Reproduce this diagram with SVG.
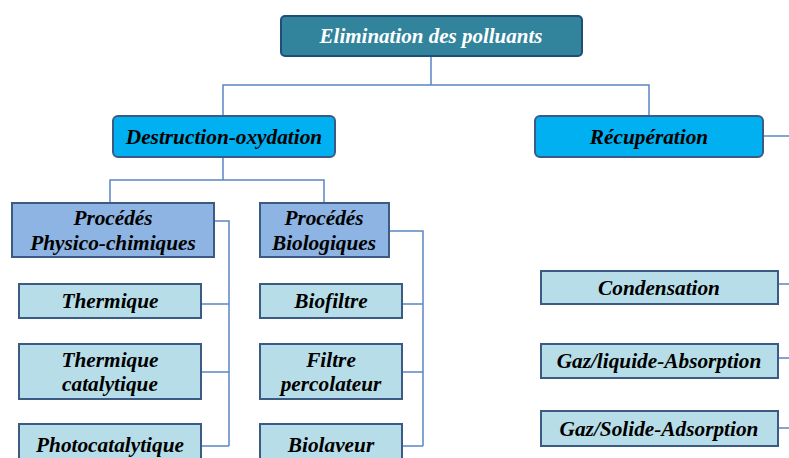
<svg xmlns="http://www.w3.org/2000/svg" width="789" height="458" viewBox="0 0 789 458">
<style>
text{font-family:"Liberation Serif","Times New Roman",serif;font-weight:bold;font-style:italic;font-size:21.3px;text-anchor:middle;fill:#000}
.root rect{fill:#31849B;stroke:#1F4E79;stroke-width:2}
.root text{fill:#fff;font-size:21px}
.l2 rect{fill:#00B0F0;stroke:#3B5B85;stroke-width:2}
.l3 rect{fill:#8DB4E2;stroke:#3B5B85;stroke-width:2}
.leaf rect{fill:#B7DEE8;stroke:#3B5B85;stroke-width:2}
#connectors path{fill:none;stroke:#5B87C5;stroke-width:1.5}
</style>
<rect width="789" height="458" fill="#fff"/>
<g id="connectors">
<path d="M431,56V85M223,116V85H649V116"/>
<path d="M763,136H789"/>
<path d="M223,157V180M110,203V180H324V203"/>
<path d="M214,221H229V446M201,304H229M201,372H229M201,446H229"/>
<path d="M389,231H423V446M402,304H423M402,372H423M402,446H423"/>
<path d="M778,284H789M778,358H789M778,428H789"/>
</g>
<g id="n-root" class="root"><rect x="281" y="16" width="301" height="40" rx="4"/><text x="431" y="43">Elimination des polluants</text></g>
<g id="n-destruction" class="l2"><rect x="113" y="116" width="222" height="41" rx="5"/><text x="224" y="144">Destruction-oxydation</text></g>
<g id="n-recuperation" class="l2"><rect x="535" y="116" width="228" height="41" rx="5"/><text x="649" y="144">Récupération</text></g>
<g id="n-physico" class="l3"><rect x="12" y="203" width="202" height="54"/><text x="113" y="225">Procédés</text><text x="113" y="250">Physico-chimiques</text></g>
<g id="n-bio" class="l3"><rect x="260" y="203" width="129" height="54"/><text x="324" y="225">Procédés</text><text x="324" y="250">Biologiques</text></g>
<g id="n-thermique" class="leaf"><rect x="19" y="284" width="182" height="34"/><text x="110" y="308">Thermique</text></g>
<g id="n-thermcat" class="leaf"><rect x="19" y="344" width="182" height="55"/><text x="110" y="367">Thermique</text><text x="110" y="391">catalytique</text></g>
<g id="n-photo" class="leaf"><rect x="19" y="424" width="182" height="40"/><text x="110" y="452">Photocatalytique</text></g>
<g id="n-biofiltre" class="leaf"><rect x="260" y="284" width="142" height="34"/><text x="331" y="308">Biofiltre</text></g>
<g id="n-filtre" class="leaf"><rect x="260" y="344" width="142" height="55"/><text x="331" y="367">Filtre</text><text x="331" y="391">percolateur</text></g>
<g id="n-biolaveur" class="leaf"><rect x="260" y="424" width="142" height="40"/><text x="331" y="452">Biolaveur</text></g>
<g id="n-condensation" class="leaf"><rect x="541" y="271" width="237" height="33"/><text x="659" y="295">Condensation</text></g>
<g id="n-gazliq" class="leaf"><rect x="541" y="344" width="237" height="34"/><text x="659" y="368">Gaz/liquide-Absorption</text></g>
<g id="n-gazsol" class="leaf"><rect x="541" y="411" width="237" height="35"/><text x="659" y="436">Gaz/Solide-Adsorption</text></g>
</svg>
